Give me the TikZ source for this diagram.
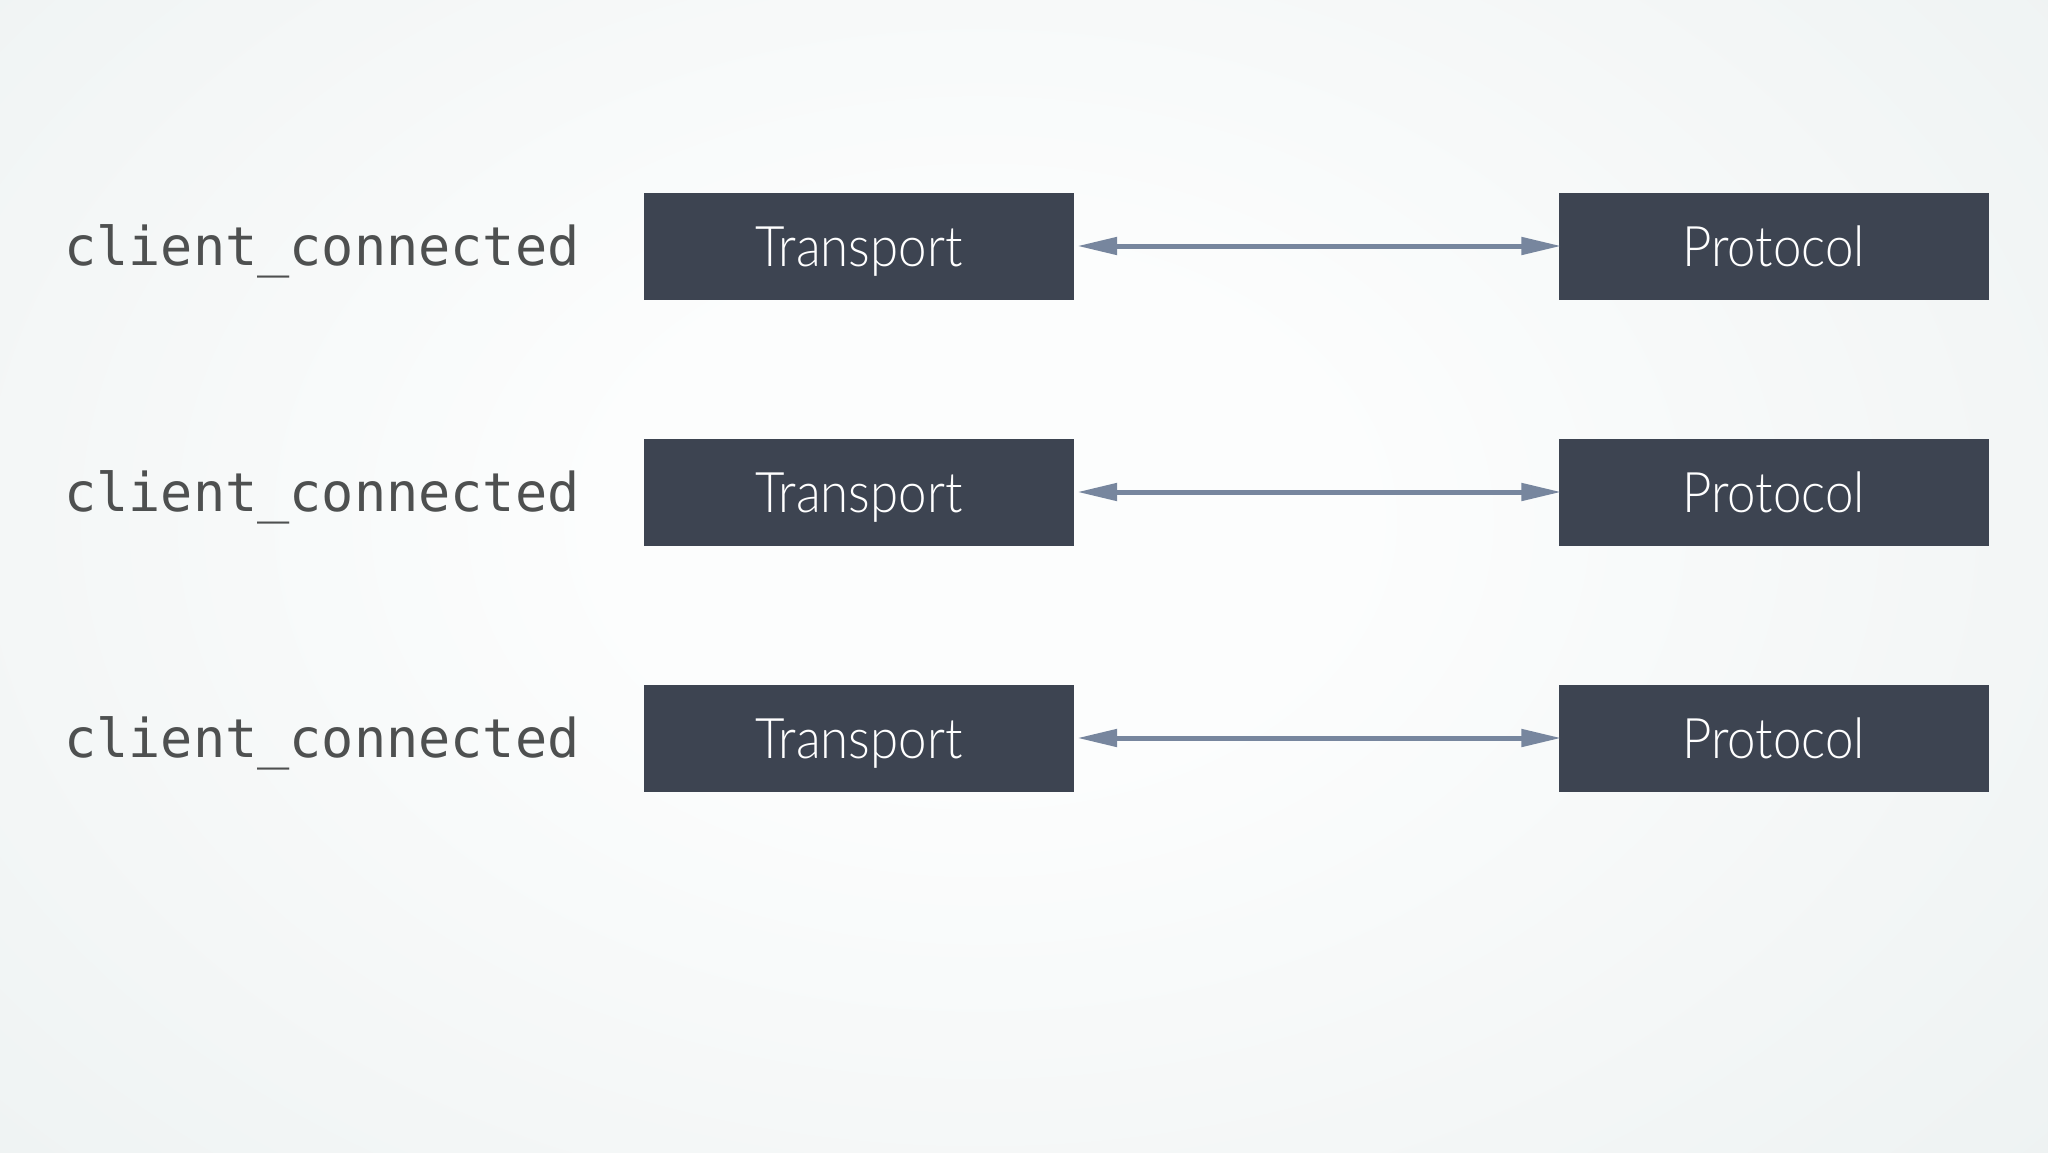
\documentclass[tikz,border=0pt]{standalone}
\usepackage{fontspec}
\usetikzlibrary{arrows.meta}
\newfontfamily\boxfont{Lato Light}
\newfontfamily\codefont{DejaVu Sans Mono}
\definecolor{boxfill}{HTML}{3D4451}
\definecolor{arrowcol}{HTML}{77869E}
\definecolor{codecol}{HTML}{4E5050}
\definecolor{bgin}{HTML}{FCFDFD}
\definecolor{bgout}{HTML}{E2E9E9}
\pgfdeclareradialshading{bgshade}{\pgfpoint{0bp}{0bp}}{color(0bp)=(bgin); color(8bp)=(bgin); color(50bp)=(bgout); color(100bp)=(bgout)}
\tikzset{
  layerbox/.style={fill=boxfill, draw=none, minimum width=430bp, minimum height=107bp,
    inner sep=0pt, text=white, font=\boxfont\fontsize{56bp}{60bp}\selectfont,
    text height=40bp, text depth=0bp},
  codelabel/.style={anchor=base west, inner sep=0pt, text=codecol,
    font=\codefont\fontsize{53.5bp}{60bp}\selectfont},
  link/.style={draw=arrowcol, line width=5bp,
    {Triangle[length=40bp,width=17bp]}-{Triangle[length=40bp,width=17bp]},
    shorten <=3bp, shorten >=-3bp}
}
\newcommand{\narrow}[1]{\scalebox{0.91}[1]{#1}}
\begin{document}
\begin{tikzpicture}[x=1bp,y=-1bp]
\useasboundingbox (0,0) rectangle (2048,1152);
\begin{scope}
\clip (0,0) rectangle (2048,1152);
\fill[bgout] (0,0) rectangle (2048,1152);
\shade[shading=bgshade] (-170,-280) rectangle (2130,1320);
\end{scope}
\foreach \i/\y in {1/246, 2/492, 3/738} {
  \node[layerbox] (t\i) at (859,\y) {\narrow{Transport}};
  \node[layerbox] (p\i) at (1773.5,\y) {\narrow{Protocol}};
  \node[codelabel] (c\i) at (64,\y+19) {client\_connected};
  \draw[link] (t\i.east) -- (p\i.west);
}
\end{tikzpicture}
\end{document}
